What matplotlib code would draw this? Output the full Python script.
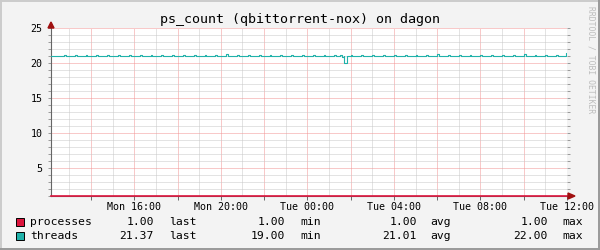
import numpy as np
import matplotlib.pyplot as plt
from matplotlib.ticker import MultipleLocator, FixedLocator, FixedFormatter
from matplotlib.patches import Polygon, Rectangle
from matplotlib.lines import Line2D

# time axis in hours since Mon 00:00
x_start, x_end = 12.15, 36.0
y_min, y_max = 1, 25

# threads: flat at 21 with short bumps every half hour
thread_base = 21.0
blip_hours = [12.75, 13.25, 13.75, 14.25, 14.75, 15.25, 15.75, 16.25, 16.75, 17.25,
              17.75, 18.25, 18.75, 19.25, 19.75, 20.25, 20.75, 21.25, 21.75, 22.25,
              22.75, 23.25, 23.75, 24.25, 24.75, 25.25,
              26.0, 26.5, 27.0, 27.5, 28.0, 28.5, 29.0, 29.5, 30.0, 30.5,
              31.0, 31.5, 32.0, 32.5, 33.0, 33.5, 34.0, 34.5, 35.0, 35.5]
blip_values = [21.15, 21.15, 21.15, 21.15, 21.15, 21.15, 21.15, 21.15, 21.15, 21.15,
               21.15, 21.15, 21.15, 21.15, 21.15, 21.3, 21.15, 21.15, 21.15, 21.15,
               21.15, 21.15, 21.15, 21.15, 21.15, 21.15,
               21.15, 21.15, 21.15, 21.15, 21.15, 21.15, 21.15, 21.15, 21.25, 21.15,
               21.15, 21.15, 21.15, 21.15, 21.15, 21.15, 21.25, 21.15, 21.15, 21.15]
blip_len = 5 / 60
# dip around Tue 01:40 and the last sample
event_start = [25.5, 25.583, 25.708, 35.95]
event_end = [25.583, 25.708, 25.817, 36.0]
event_values = [21.15, 20.85, 20.0, 21.37]

proc_hours = [12.15, 36.0]
proc_values = [1.0, 1.0]

xtick_hours = [16, 20, 24, 28, 32, 36]
xtick_labels = ['Mon 16:00', 'Mon 20:00', 'Tue 00:00', 'Tue 04:00', 'Tue 08:00', 'Tue 12:00']
ytick_values = [5, 10, 15, 20, 25]

series_names = ['processes', 'threads']
series_colors = ['#DC143C', '#20B2AA']
stat_last = [1.00, 21.37]
stat_min = [1.00, 19.00]
stat_avg = [1.00, 21.01]
stat_max = [1.00, 22.00]

W, H = 600, 250
font = 'DejaVu Sans Mono'
plt.rcParams['font.family'] = font


def px(x, y):
    return (x / W, 1 - y / H)


# build step series for threads
segs = sorted([(h, h + blip_len, v) for h, v in zip(blip_hours, blip_values)] +
              list(zip(event_start, event_end, event_values)))
t = [x_start]
v = [thread_base]
for s, e, val in segs:
    t.append(s)
    v.append(val)
    if e >= x_end:
        t.append(x_end)
        v.append(val)
    else:
        t.append(e)
        v.append(thread_base)

fig = plt.figure(figsize=(W / 100, H / 100), dpi=100, facecolor='#F3F3F3')
ax = fig.add_axes([51 / W, 54 / H, 516 / W, 168 / H])
ax.set_facecolor('white')

ax.plot(t, v, color=series_colors[1], linewidth=0.8, drawstyle='steps-post', zorder=3)
ax.plot(proc_hours, proc_values, color=series_colors[0], linewidth=1.2, clip_on=False, zorder=4)

ax.set_xlim(x_start, x_end)
ax.set_ylim(y_min, y_max)

major_x = np.arange(14, 37, 2)
ax.xaxis.set_major_locator(FixedLocator(major_x))
ax.xaxis.set_major_formatter(FixedFormatter(
    [xtick_labels[xtick_hours.index(h)] if h in xtick_hours else '' for h in major_x]))
ax.xaxis.set_minor_locator(MultipleLocator(1))
ax.yaxis.set_major_locator(FixedLocator(ytick_values))
ax.yaxis.set_minor_locator(MultipleLocator(1))

ax.grid(which='minor', color='#C8C8C8', linestyle=(0, (1, 1)), linewidth=0.72)
ax.grid(which='major', color='#F29494', linestyle=(0, (1, 1)), linewidth=0.72)

for s in ['top', 'right']:
    ax.spines[s].set_visible(False)
for s in ['left', 'bottom']:
    ax.spines[s].set_color('#666666')
    ax.spines[s].set_linewidth(0.8)

ax.tick_params(axis='x', which='major', direction='out', length=3, width=0.7,
               color='#666666', labelsize=7.2, pad=1.5)
ax.tick_params(axis='x', which='minor', length=0)
ax.tick_params(axis='y', which='both', direction='out', length=2, width=0.7,
               color='#999999', labelsize=7.2, pad=4, right=True)
for lab in ax.get_xticklabels() + ax.get_yticklabels():
    lab.set_family(font)

# axis arrows
fig.add_artist(Polygon([px(48, 28), px(54, 28), px(51, 22)], closed=True,
                       transform=fig.transFigure, color='#A01010', zorder=5))
fig.add_artist(Polygon([px(568, 193), px(568, 199), px(575, 196)], closed=True,
                       transform=fig.transFigure, color='#A01010', zorder=5))

fig.text(*px(300, 19), 'ps_count (qbittorrent-nox) on dagon', ha='center', va='center',
         fontsize=9.6, family=font)
fig.text(*px(591, 6), 'RRDTOOL / TOBI OETIKER', ha='center', va='top', rotation=270,
         fontsize=5.8, family=font, color='#BDBDBD')

# legend rows
row_y = [222, 236]
for i, name in enumerate(series_names):
    y = row_y[i]
    fig.add_artist(Rectangle(px(16, y + 4), 8 / W, 8 / H, transform=fig.transFigure,
                             facecolor=series_colors[i], edgecolor='black', linewidth=0.7))
    kw = dict(va='center', fontsize=8.2, family=font)
    fig.text(*px(30, y), name, ha='left', **kw)
    fig.text(*px(154, y), '%.2f' % stat_last[i], ha='right', **kw)
    fig.text(*px(169, y), 'last', ha='left', **kw)
    fig.text(*px(285, y), '%.2f' % stat_min[i], ha='right', **kw)
    fig.text(*px(300, y), 'min', ha='left', **kw)
    fig.text(*px(417, y), '%.2f' % stat_avg[i], ha='right', **kw)
    fig.text(*px(430, y), 'avg', ha='left', **kw)
    fig.text(*px(548, y), '%.2f' % stat_max[i], ha='right', **kw)
    fig.text(*px(562, y), 'max', ha='left', **kw)

# bevel frame
fig.add_artist(Line2D([0, 1], [1 - 1 / H, 1 - 1 / H], transform=fig.transFigure, color='#CBCBCB', linewidth=1.4))
fig.add_artist(Line2D([1 / W, 1 / W], [0, 1], transform=fig.transFigure, color='#CBCBCB', linewidth=1.4))
fig.add_artist(Line2D([0, 1], [1 / H, 1 / H], transform=fig.transFigure, color='#999999', linewidth=1.4))
fig.add_artist(Line2D([1 - 1 / W, 1 - 1 / W], [0, 1], transform=fig.transFigure, color='#999999', linewidth=1.4))

plt.savefig('out.png', dpi=100, facecolor=fig.get_facecolor())
